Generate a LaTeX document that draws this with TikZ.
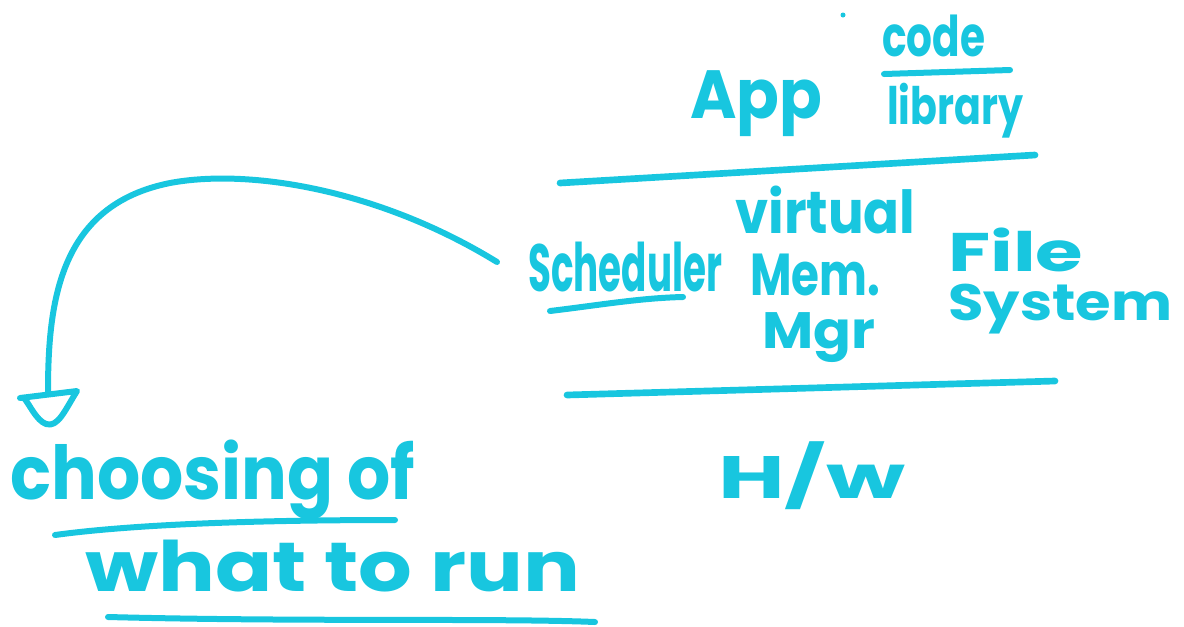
\documentclass[tikz,border=0pt]{standalone}
\usepackage{fontspec}
\setmainfont{Poppins}
\usepackage{graphicx}
\newlength\pxu
\setlength\pxu{0.75pt}
\newcommand\fitt[3]{\resizebox*{#1\pxu}{#2\pxu}{\bfseries #3}}
\newcommand\fitm[3]{\resizebox*{#1\pxu}{#2\pxu}{#3}}
\definecolor{ink}{HTML}{18C6DF}
\tikzset{
  hand/.style={draw=ink, line width=5pt, line cap=round, line join=round},
  thin/.style={draw=ink, line width=4.5pt, line cap=round, line join=round},
  lbl/.style={text=ink, inner sep=0pt, anchor=north west},
}
\begin{document}
\begin{tikzpicture}[x=0.75pt,y=-0.75pt]
\useasboundingbox (0,0) rectangle (1184,626);
% dot
\fill[ink] (843,15) circle (2.5);
% App layer
\node[lbl] (app) at (690,70) {\fitt{132}{66}{App}};
\node[lbl] (code) at (882,15) {\fitt{103}{42}{code}};
\coordinate (f1) at (884,74);
\coordinate (f2) at (1010,70);
\draw[thin] (f1) -- (f2);
\node[lbl] (lib) at (887,83) {\fitt{136}{55}{library}};
% separators
\coordinate (s1a) at (560,183);
\coordinate (s1b) at (1035,155);
\draw[hand] (s1a) -- (s1b);
\coordinate (s2a) at (567,395);
\coordinate (s2b) at (1055,381);
\draw[hand] (s2a) -- (s2b);
% OS layer
\node[lbl] (sched) at (528,242) {\fitt{194}{50}{Scheduler}};
\coordinate (u1a) at (550,311);
\coordinate (u1b) at (683,297);
\draw[thin] (u1a) .. controls (600,305) and (640,298) .. (u1b);
\node[lbl] (virt) at (735,186) {\fitt{180}{48}{virtual}};
\node[lbl] (mem) at (750,254) {\fitt{130}{42}{Mem.}};
\node[lbl] (mgr) at (762,312) {\fitt{113}{50}{Mgr}};
\node[lbl] (file) at (948,228) {\fitt{135}{44}{File}};
\node[lbl] (sys) at (948,284) {\fitt{224}{50}{System}};
% HW
\node[lbl] (hw) at (718,441) {\fitt{187}{68}{H/w}};
% annotation
\node[lbl] (choose) at (10,440) {\fitt{405}{80}{choosing of}};
\coordinate (u2a) at (55,535);
\coordinate (u2b) at (395,520);
\draw[thin] (u2a) .. controls (150,522) and (300,520) .. (u2b);
\node[lbl] (what) at (85,540) {\fitt{495}{52}{what to run}};
\coordinate (u3a) at (108,617);
\coordinate (u3b) at (595,622);
\draw[thin] (u3a) .. controls (300,622) and (500,618) .. (u3b);
% arrow
\coordinate (src) at (497,262);
\coordinate (tip) at (48,392);
\draw[thin] (src) .. controls (380,190) and (250,168) .. (170,183)
  .. controls (60,205) and (48,300) .. (tip);
\draw[thin] (20,398) -- (77,391) .. controls (65,410) and (58,428) .. (46,424)
  .. controls (36,420) and (30,405) .. (24,398);
\end{tikzpicture}
\end{document}
